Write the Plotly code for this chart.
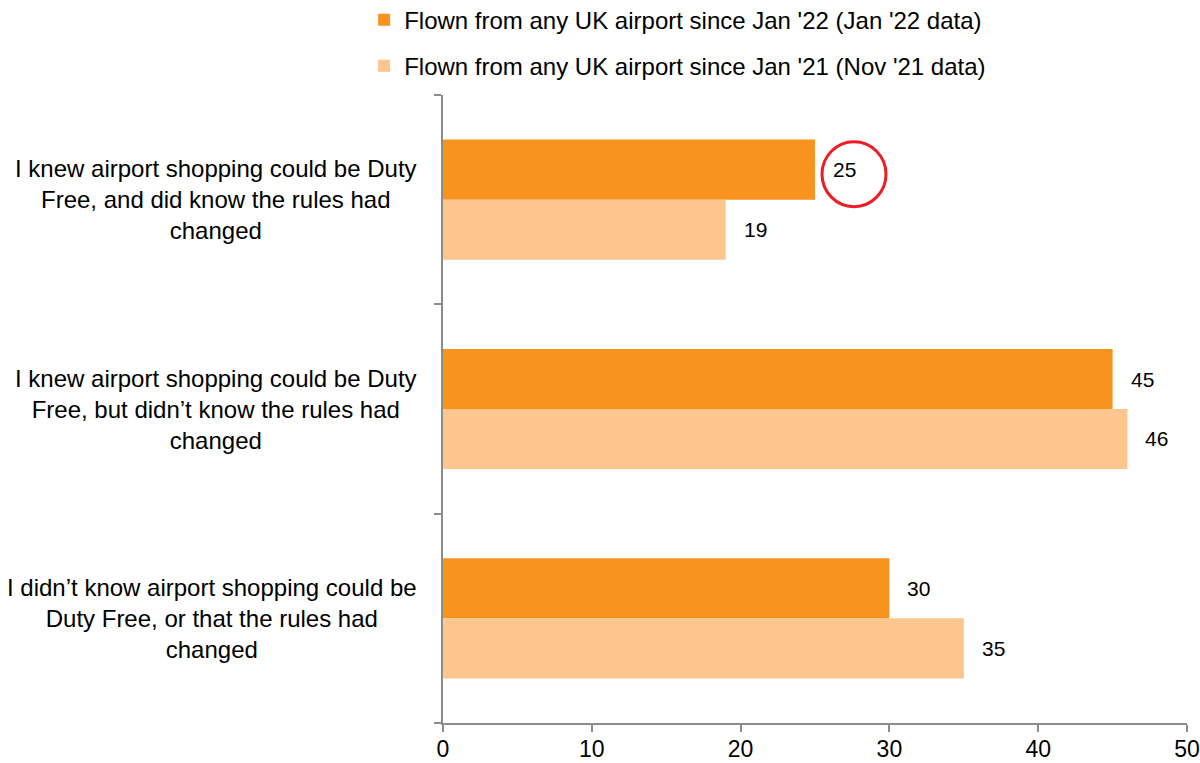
import plotly.graph_objects as go

categories = [
    "I knew airport shopping could be Duty<br>Free, and did know the rules had<br>changed",
    "I knew airport shopping could be Duty<br>Free, but didn’t know the rules had<br>changed",
    "I didn’t know airport shopping could be<br>Duty Free, or that the rules had<br>changed",
]
series_names = [
    "Flown from any UK airport since Jan '22 (Jan '22 data)",
    "Flown from any UK airport since Jan '21 (Nov '21 data)",
]
jan22 = [25, 45, 30]
nov21 = [19, 46, 35]
x_ticks = [0, 10, 20, 30, 40, 50]

colors = ["#F7931E", "#FDC68E"]
FONT = "Liberation Sans, Arial, sans-serif"

fig = go.Figure()
fig.add_trace(go.Bar(y=list(range(len(categories))), x=jan22, orientation="h",
                     name=series_names[0], marker=dict(color=colors[0], line=dict(width=0)),
                     legend="legend", showlegend=True))
fig.add_trace(go.Bar(y=list(range(len(categories))), x=nov21, orientation="h",
                     name=series_names[1], marker=dict(color=colors[1], line=dict(width=0)),
                     legend="legend2", showlegend=True))

annotations = []
# category labels
for i, c in enumerate(categories):
    annotations.append(dict(x=0, xref="paper", y=i, yref="y", text=c, showarrow=False,
                            xanchor="right", yanchor="middle", align="center", xshift=-24,
                            font=dict(family=FONT, size=24, color="#000")))
# data labels
offsets = [-0.142, 0.142]
for s, vals in enumerate([jan22, nov21]):
    for i, v in enumerate(vals):
        annotations.append(dict(x=v, xref="x", y=i + offsets[s], yref="y", text=str(v),
                                showarrow=False, xanchor="left", yanchor="middle", xshift=16,
                                font=dict(family=FONT, size=21, color="#000")))

shapes = [dict(type="circle", xref="x", yref="y", xsizemode="pixel", ysizemode="pixel",
               xanchor=jan22[0], yanchor=0, x0=7, x1=71, y0=-7, y1=58,
               line=dict(color="#EE1C25", width=3), fillcolor="rgba(0,0,0,0)")]

fig.update_layout(
    width=1200, height=763,
    margin=dict(l=443, r=13, t=95, b=40, autoexpand=False),
    paper_bgcolor="white", plot_bgcolor="white",
    showlegend=True,
    barmode="group", bargap=0.426, bargroupgap=0,
    font=dict(family=FONT, size=23, color="#000"),
    annotations=annotations, shapes=shapes,
    legend=dict(visible=True, x=-0.106, xanchor="left", y=1.119, yanchor="middle",
                font=dict(family=FONT, size=24, color="#000"), bgcolor="rgba(0,0,0,0)"),
    legend2=dict(visible=True, x=-0.106, xanchor="left", y=1.046, yanchor="middle",
                 font=dict(family=FONT, size=24, color="#000"), bgcolor="rgba(0,0,0,0)"),
    xaxis=dict(range=[0, 50], tickvals=x_ticks, ticktext=[str(t) for t in x_ticks],
               showgrid=False, zeroline=False, showline=True, linecolor="#8c8c8c", linewidth=2,
               ticks="outside", ticklen=7, tickwidth=2, tickcolor="#8c8c8c",
               ticklabelstandoff=-3,
               tickfont=dict(family=FONT, size=23, color="#000")),
    yaxis=dict(range=[2.5, -0.5], tickvals=[-0.5, 0.5, 1.5, 2.5], showticklabels=False,
               showgrid=False, zeroline=False, showline=True, linecolor="#8c8c8c", linewidth=2,
               ticks="outside", ticklen=7, tickwidth=2, tickcolor="#8c8c8c"),
)

fig.write_html("out.html", config={"displayModeBar": False},
               post_script="document.body.style.margin='0px';document.body.style.overflow='hidden';")
